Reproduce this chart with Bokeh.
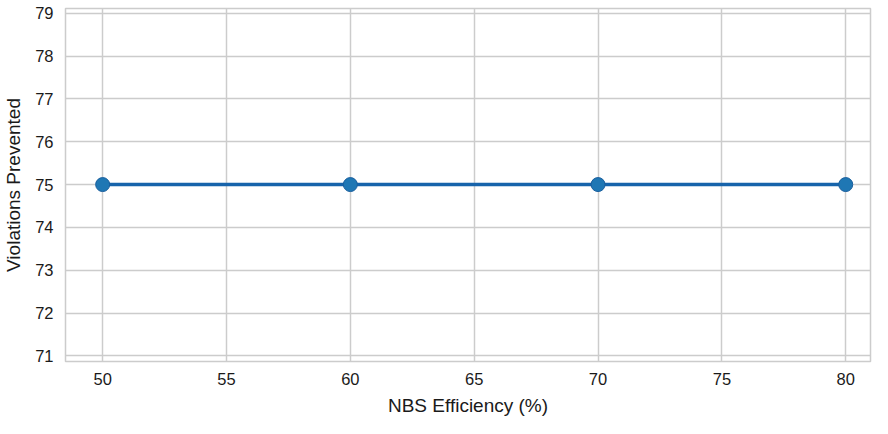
from bokeh.plotting import figure
from bokeh.embed import file_html
from bokeh.resources import INLINE
from bokeh.models import Range1d, FixedTicker

efficiency = [50, 60, 70, 80]
violations_prevented = [75, 75, 75, 75]
x_ticks = [50, 55, 60, 65, 70, 75, 80]
y_ticks = [71, 72, 73, 74, 75, 76, 77, 78, 79]

p = figure(width=872, height=418, output_backend="svg", toolbar_location=None,
           x_range=Range1d(48.5, 81.0), y_range=Range1d(70.87, 79.11),
           min_border_left=53, min_border_right=2, min_border_top=8, min_border_bottom=0)

p.line(efficiency, violations_prevented, line_color="#1764ab", line_width=3.5)
p.scatter(efficiency, violations_prevented, size=14, fill_color="#1f77b4",
          line_color="#1a5f9e", line_width=1)

p.xaxis.ticker = FixedTicker(ticks=x_ticks)
p.yaxis.ticker = FixedTicker(ticks=y_ticks)
p.xaxis.axis_label = "NBS Efficiency (%)"
p.yaxis.axis_label = "Violations Prevented"

for ax in (p.xaxis, p.yaxis):
    ax.axis_line_color = None
    ax.major_tick_line_color = None
    ax.minor_tick_line_color = None
    ax.major_label_text_font = "Liberation Sans"
    ax.major_label_text_font_size = "16.5px"
    ax.major_label_text_color = "#1a1a1a"
    ax.axis_label_text_font = "Liberation Sans"
    ax.axis_label_text_font_size = "19px"
    ax.axis_label_text_font_style = "normal"
    ax.axis_label_text_color = "#1a1a1a"
p.xaxis.major_label_standoff = 5
p.yaxis.major_label_standoff = 6
p.xaxis.axis_label_standoff = 7
p.yaxis.axis_label_standoff = 8

p.xgrid.grid_line_color = "#cccccc"
p.ygrid.grid_line_color = "#cccccc"
p.xgrid.grid_line_width = 1.5
p.ygrid.grid_line_width = 1.5
p.outline_line_color = "#cccccc"
p.outline_line_width = 1.5
p.background_fill_color = "white"
p.border_fill_color = "white"

open("out.html", "w").write(file_html(p, INLINE))
